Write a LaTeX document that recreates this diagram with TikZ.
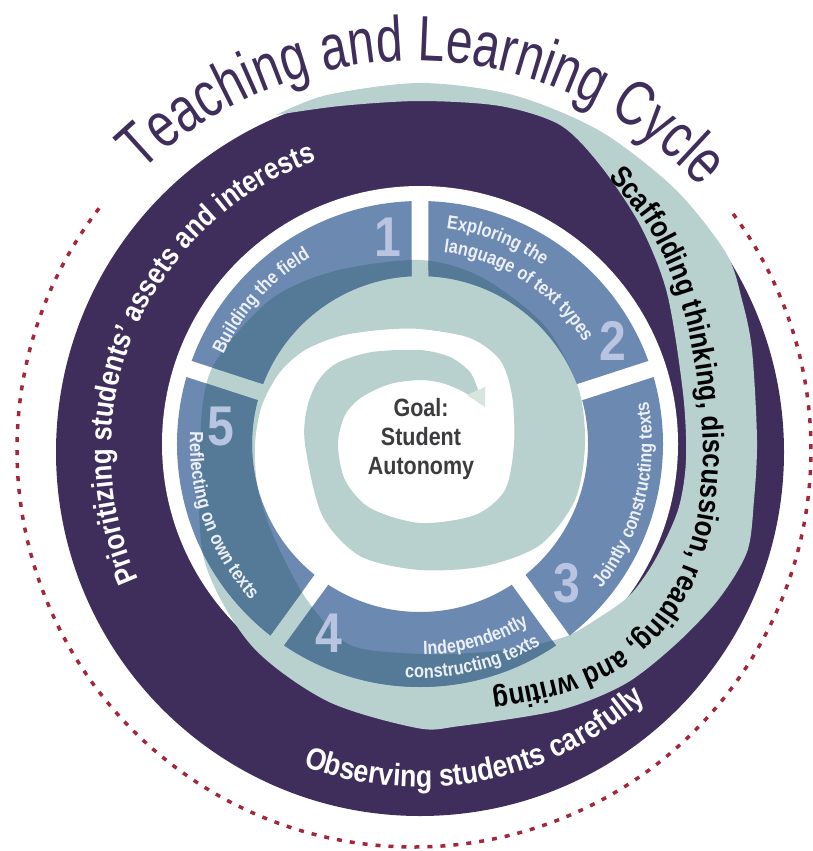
\documentclass[tikz,border=0pt]{standalone}
\usepackage{fontspec}
\setmainfont{Liberation Sans}
\newfontfamily\condfont{Liberation Sans}[FakeStretch=0.86]
\newfontfamily\titlefont{Liberation Sans}[FakeStretch=0.75]
\usetikzlibrary{decorations.text}

\definecolor{ringpurple}{RGB}{63,46,91}
\definecolor{spiralteal}{RGB}{184,208,206}
\definecolor{segblue}{RGB}{108,137,178}
\definecolor{overlapblue}{RGB}{84,122,151}
\definecolor{arrowmint}{RGB}{214,230,223}
\definecolor{numlilac}{RGB}{185,197,224}
\definecolor{dotred}{RGB}{164,38,58}
\definecolor{goalgray}{RGB}{60,60,62}
\definecolor{labelwhite}{RGB}{236,240,246}

\newcommand\ringtext{\condfont\bfseries\fontsize{30}{30}\selectfont}
\newcommand\segtext{\condfont\bfseries\fontsize{19}{19}\selectfont\color{labelwhite}}

\tikzset{
  digit/.style={font=\condfont\bfseries\fontsize{56}{56}\selectfont, text=numlilac, inner sep=0pt},
  curvedtext/.style 2 args={decorate, decoration={text along path, text align=#1, text={#2}}}
}

\begin{document}
\begin{tikzpicture}[x=1pt, y=1pt]
	\useasboundingbox (0,0) rectangle (812,-851);
	\coordinate (S) at (420,-444);
	\coordinate (P) at (420,-452);
	\coordinate (D) at (414,-450);

	\draw[dotred, line width=3.5pt, dash pattern=on 5pt off 8pt] (D) ++(142.5:397pt) arc[start angle=142.5, end angle=397.5, radius=397pt];

	\fill[ringpurple] (P) circle[radius=364pt];
	\fill[white] (S) circle[radius=258pt];

	\path[save path=\spiralpath] plot[smooth] coordinates {(276,-115) (327,-95) (420,-83) (513,-95) (600,-131) (675,-189) (726,-253) (742,-300) (752,-350) (757,-440) (754,-500) (747,-552) (718,-600) (675,-645) (625,-684) (560,-710) (460,-726) (417,-728) (327,-701) (251,-645) (204,-559) (200,-444) (212,-368) (270,-300) (335,-271) (420,-260) (481,-277) (544,-325) (578,-387) (585,-444) (575,-500) (540,-545) (485,-566) (420,-570) (360,-556) (322,-515) (305,-444) (307,-408) (318,-381) (337,-363) (372,-352) (420,-350) (450,-357) (470,-372) (478,-390)}
		-- plot[smooth] coordinates {(470,-396) (460,-390) (442,-383) (420,-380) (390,-384) (362,-397) (345,-415) (338,-444) (345,-480) (370,-508) (420,-523) (475,-515) (505,-490) (514,-444) (512,-395) (500,-360) (470,-338) (420,-329) (380,-330) (340,-336) (305,-350) (280,-372) (262,-405) (255,-444) (258,-490) (275,-540) (307,-600) (350,-645) (420,-654) (470,-653) (520,-648) (567,-636) (600,-617) (630,-595) (655,-560) (678,-510) (686,-460) (683,-393) (667,-293) (640,-225) (600,-165) (560,-125) (500,-106) (420,-101) (340,-106) (276,-115)}
		-- cycle;
	\fill[spiralteal, use path=\spiralpath];

	\path[save path=\segpath, shift={(420,-444)}] \foreach \a in {90,18,-54,-126,-198} {
		({\a-2}:243pt) arc[start angle=\a-2, end angle=\a-70, radius=243pt]
		-- ({\a-69.1}:168pt) arc[start angle=\a-69.1, end angle=\a-2.9, radius=168pt] -- cycle};
	\fill[segblue, use path=\segpath];
	\begin{scope}
		\path[clip, use path=\segpath];
		\fill[overlapblue, use path=\spiralpath];
	\end{scope}

	\fill[arrowmint] (467,-395) -- (485,-387) -- (485,-407) -- cycle;

	\path[curvedtext={center}{|\titlefont\fontsize{64}{64}\selectfont\color{ringpurple}|Teaching and Learning Cycle}] (D) ++(158.35:389pt) arc[start angle=158.35, end angle=18.35, radius=389pt];
	\path[curvedtext={center}{|\ringtext\color{white}|Prioritizing students’ assets and interests}] (P) ++(227:309pt) arc[start angle=227, end angle=87, radius=309pt];
	\path[curvedtext={center}{|\condfont\bfseries\fontsize{31}{31}\selectfont\color{white}|Observing students carefully}] (P) ++(-131:335pt) arc[start angle=-131, end angle=-27, radius=335pt];
	\path[curvedtext={left}{|\ringtext\color{black}|Scaffolding thinking, discussion, reading, and writing}] plot[smooth] coordinates {(608,-178) (645,-222) (672,-275) (690,-335) (700,-400) (703,-460) (697,-520) (680,-575) (650,-622) (610,-657) (560,-678) (505,-690) (450,-696) (400,-694)};

	\path[curvedtext={center}{|\segtext|Building the field}] (S) ++(158:216pt) arc[start angle=158, end angle=118, radius=216pt];
	\path[curvedtext={left}{|\segtext|Exploring the}] (S) ++(83:217pt) arc[start angle=83, end angle=10, radius=217pt];
	\path[curvedtext={left}{|\segtext|language of text types}] (S) ++(83:193pt) arc[start angle=83, end angle=5, radius=193pt];
	\path[curvedtext={center}{|\segtext|Jointly constructing texts}] (S) ++(-50:232pt) arc[start angle=-50, end angle=22, radius=232pt];
	\path[curvedtext={right}{|\segtext|Independently}] (S) ++(-135:211pt) arc[start angle=-135, end angle=-59, radius=211pt];
	\path[curvedtext={right}{|\segtext|constructing texts}] (S) ++(-135:234pt) arc[start angle=-135, end angle=-59, radius=234pt];
	\path[curvedtext={left}{|\segtext|Reflecting on own texts}] (S) ++(177:230pt) arc[start angle=177, end angle=240, radius=230pt];

	\node[digit] (n1) at (388,-237) {1};
	\node[digit] (n2) at (613,-341) {2};
	\node[digit] (n3) at (567,-583) {3};
	\node[digit] (n4) at (329,-633) {4};
	\node[digit] (n5) at (221,-427) {5};

	\node[align=center, text=goalgray, font=\condfont\bfseries\fontsize{25}{29}\selectfont] (goal) at (421,-439) {Goal:\\Student\\Autonomy};
\end{tikzpicture}
\end{document}
